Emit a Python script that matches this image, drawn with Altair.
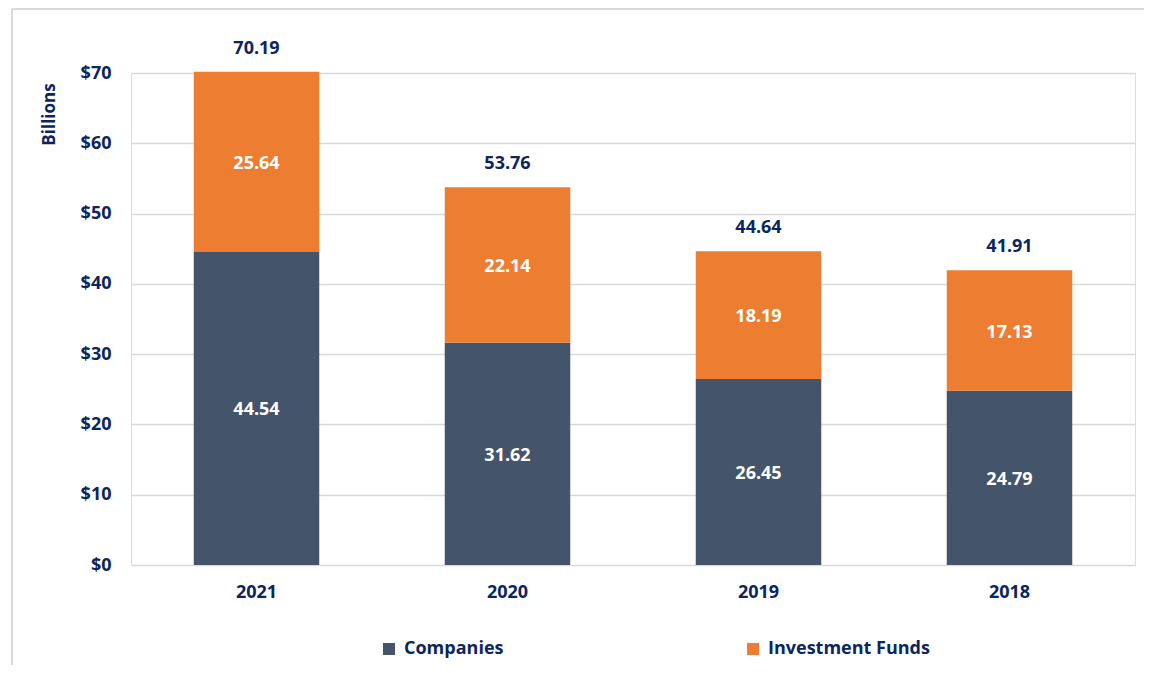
import altair as alt
import pandas as pd

years = ["2021", "2020", "2019", "2018"]
companies = [44.54, 31.62, 26.45, 24.79]
funds = [25.64, 22.14, 18.19, 17.13]
totals = [70.19, 53.76, 44.64, 41.91]
series_names = ["Companies", "Investment Funds"]
series_colors = ["#44546A", "#ED7D31"]
y_ticks = [0, 10, 20, 30, 40, 50, 60, 70]

NAVY = "#0B2560"
FONT = "Open Sans"

rows = []
for i, y in enumerate(years):
    rows.append({"year": y, "series": series_names[0], "value": companies[i], "ord": 0})
    rows.append({"year": y, "series": series_names[1], "value": funds[i], "ord": 1})
df = pd.DataFrame(rows)
tot_df = pd.DataFrame({"year": years, "total": totals})

x_enc = alt.X("year:N", sort=years, title=None,
              scale=alt.Scale(paddingInner=0.5, paddingOuter=0.25),
              axis=alt.Axis(labelFont=FONT, labelFontSize=18, labelFontWeight="bold",
                            labelColor=NAVY, labelPadding=18, labelAngle=0,
                            ticks=False, domain=False, grid=False))

y_scale = alt.Scale(domain=[0, 70], nice=False)

bars = alt.Chart(df).mark_bar().encode(
    x=x_enc,
    y=alt.Y("value:Q", stack="zero", scale=y_scale, title="Billions",
            axis=alt.Axis(values=y_ticks, labelExpr="'$' + datum.value",
                          labelFont=FONT, labelFontSize=18, labelFontWeight="bold",
                          labelColor=NAVY, labelPadding=20, ticks=False, domain=False,
                          grid=True, gridColor="#D9D9D9", gridWidth=1.5,
                          titleFont=FONT, titleFontSize=17, titleFontWeight="bold",
                          titleColor=NAVY, titleAngle=-90, titleX=-82, titleY=41,
                          titleAlign="center", titleBaseline="middle")),
    color=alt.Color("series:N", scale=alt.Scale(domain=series_names, range=series_colors),
                    legend=alt.Legend(title=None, orient="none", direction="horizontal",
                                      legendX=249, legendY=567, symbolType="square",
                                      symbolSize=144, symbolStrokeWidth=0,
                                      labelFont=FONT, labelFontSize=18, labelFontWeight="bold",
                                      labelColor=NAVY, labelOffset=6, columnPadding=240,
                                      labelLimit=400, padding=0)),
    order=alt.Order("ord:Q"),
)

seg_text = alt.Chart(df).transform_stack(
    stack="value", as_=["v0", "v1"], groupby=["year"], sort=[alt.SortField("ord")]
).transform_calculate(
    mid="(datum.v0 + datum.v1) / 2"
).mark_text(font=FONT, fontSize=18, fontWeight="bold", color="white", baseline="middle", dy=2).encode(
    x=alt.X("year:N", sort=years),
    y=alt.Y("mid:Q", scale=y_scale),
    text=alt.Text("value:Q", format=".2f"),
)

tot_text = alt.Chart(tot_df).mark_text(font=FONT, fontSize=18, fontWeight="bold", color=NAVY,
                                       baseline="middle", dy=-23).encode(
    x=alt.X("year:N", sort=years),
    y=alt.Y("total:Q", scale=y_scale),
    text=alt.Text("total:Q", format=".2f"),
)

one = tot_df.head(1)
border_top = alt.Chart(one).mark_rule(color="#D9D9D9", strokeWidth=2).encode(
    x=alt.value(-119), x2=alt.value(1200), y=alt.value(-64)
)
border_left = alt.Chart(one).mark_rule(color="#D9D9D9", strokeWidth=2).encode(
    x=alt.value(-119), y=alt.value(-64), y2=alt.value(800)
)

chart = alt.layer(border_top, border_left, bars, seg_text, tot_text).properties(
    width=1004, height=492,
    autosize=alt.AutoSizeParams(type="none"),
    padding={"left": 123, "top": 65, "right": 9, "bottom": 100},
).configure_view(stroke=None).configure(background="white")

chart.save("out.html", embed_options={"renderer": "svg", "actions": False})
